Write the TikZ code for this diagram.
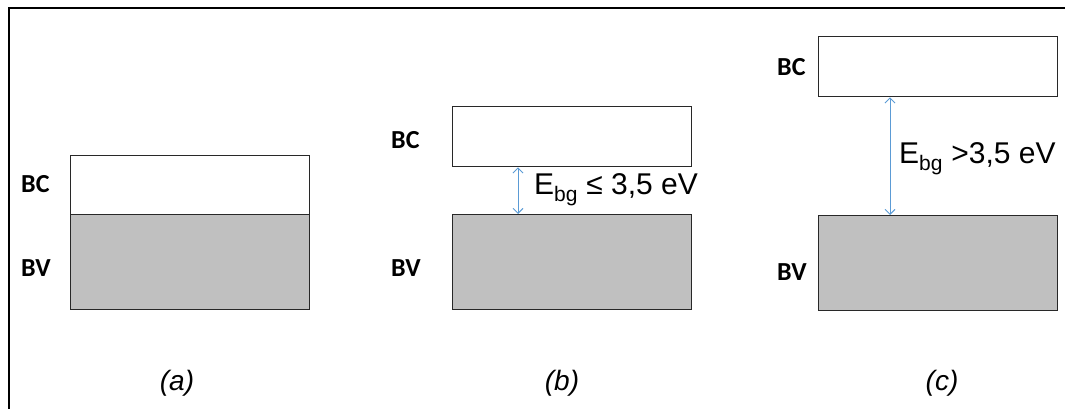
\documentclass[tikz,border=0pt]{standalone}
\usepackage{fontspec}
\setmainfont{Liberation Sans}
\newfontfamily\bandfont{Carlito}
\usetikzlibrary{positioning,arrows.meta}
\definecolor{bandfill}{RGB}{192,192,192}
\definecolor{bandedge}{RGB}{40,40,40}
\definecolor{gaparrow}{RGB}{91,155,213}

\tikzset{
	band/.style={draw=bandedge, line width=1.4pt, minimum width=239pt, inner sep=0pt, anchor=north west},
	bandlabel/.style={font=\bandfont\bfseries\fontsize{26}{26}\selectfont, anchor=west, inner sep=0pt},
	caption/.style={font=\itshape\fontsize{28}{28}\selectfont},
	gaplabel/.style={font=\fontsize{30}{30}\selectfont, anchor=west, inner sep=0pt},
	gap/.style={gaparrow, line width=0.9pt, {Straight Barb[length=5pt,width=10pt]}-{Straight Barb[length=5pt,width=10pt]}}
}

\begin{document}
\begin{tikzpicture}[x=1pt,y=-1pt]
	\useasboundingbox (0,0) rectangle (1065,409);
	
	% Frame
	\draw[line width=2pt] (9,409) -- (9,8) -- (1065,8);
	
	% (a) metal: bands touch
	\node[band, minimum height=59pt] (bca) at (70,155) {};
	\node[band, fill=bandfill, minimum height=95pt] (bva) at (70,214) {};
	\node[bandlabel] (lbca) at (21,184) {BC};
	\node[bandlabel] (lbva) at (21,268) {BV};
	\node[caption] (capa) at (177,383) {(a)};
	
	% (b) semiconductor
	\node[band, minimum height=60pt] (bcb) at (452,106) {};
	\node[band, fill=bandfill, minimum height=95pt] (bvb) at (452,214) {};
	\node[bandlabel] (lbcb) at (391,140) {BC};
	\node[bandlabel] (lbvb) at (391,268) {BV};
	\draw[gap] ([xshift=66pt]bcb.south west) -- ([xshift=66pt]bvb.north west);
	\node[gaplabel] (gapb) at (534,190) {E\textsubscript{bg} ≤ 3,5 eV};
	\node[caption] (capb) at (562,383) {(b)};
	
	% (c) insulator
	\node[band, minimum height=60pt] (bcc) at (818,36) {};
	\node[band, fill=bandfill, minimum height=95pt] (bvc) at (818,215) {};
	\node[bandlabel] (lbcc) at (777,67) {BC};
	\node[bandlabel] (lbvc) at (777,272) {BV};
	\draw[gap] ([xshift=72pt]bcc.south west) -- ([xshift=72pt]bvc.north west);
	\node[gaplabel] (gapc) at (899,159) {E\textsubscript{bg} >3,5 eV};
	\node[caption] (capc) at (942,383) {(c)};
\end{tikzpicture}
\end{document}
